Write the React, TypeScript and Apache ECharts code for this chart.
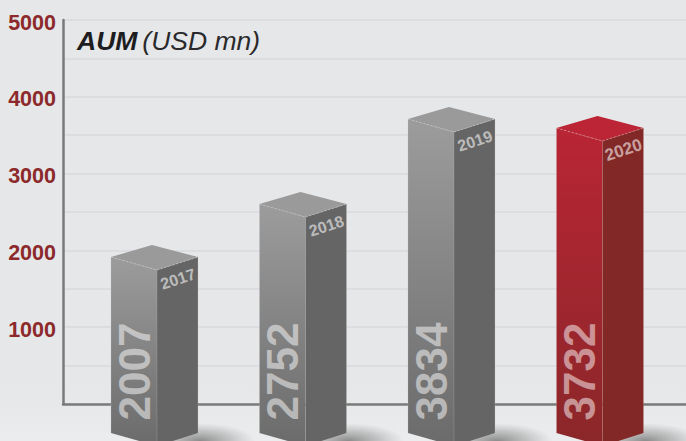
import React, { useEffect, useRef } from "react";
import * as echarts from "echarts";

const years = ["2017", "2018", "2019", "2020"];
const printedValues = ["2007", "2752", "3834", "3732"];
// Bar-top heights (the artwork's 3D bars do not sit exactly on the printed values)
const barHeights = [2070, 2760, 3867, 3750];
const yTicks = [0, 1000, 2000, 3000, 4000, 5000];

const FONT = '"Liberation Sans", Arial, sans-serif';

const grey = { top: "#9a9a9a", frontA: "#9c9c9c", frontB: "#6b6b6b", side: "#656565", edge: "#c4c4c4", label: "rgba(255,255,255,0.5)" };
const red = { top: "#bb2535", frontA: "#b92535", frontB: "#8a2729", side: "#822826", edge: "#d9a0a5", label: "rgba(255,255,255,0.5)" };

function renderItem(params: any, api: any) {
  const i = params.dataIndex;
  const c = i === 3 ? red : grey;
  const apex = api.coord([api.value(0), api.value(1)]);
  const base = api.coord([api.value(0), 0]);
  const cx = apex[0];
  const t = apex[1];
  const b = base[1];
  const L = cx - 41;
  const M = cx + 5;
  const R = cx + 46;
  const poly = (points: number[][], fill: any) => ({ type: "polygon", shape: { points }, style: { fill } });
  const line = (x1: number, y1: number, x2: number, y2: number, opacity: number, dash?: number[]) => ({
    type: "line",
    shape: { x1, y1, x2, y2 },
    style: { stroke: c.edge, lineWidth: 0.8, lineDash: dash, opacity },
  });
  return {
    type: "group",
    children: [
      {
        type: "ellipse",
        shape: { cx: R + 2, cy: b + 37, rx: 56, ry: 18 },
        style: {
          fill: new echarts.graphic.RadialGradient(0.5, 0.5, 0.5, [
            { offset: 0, color: "rgba(60,60,60,0.55)" },
            { offset: 0.55, color: "rgba(90,90,90,0.28)" },
            { offset: 1, color: "rgba(120,120,120,0)" },
          ]),
        },
      },
      poly([[L, t + 12], [M, t + 25], [M, b + 42], [L, b + 29]],
        new echarts.graphic.LinearGradient(0, 0, 0, 1, [
          { offset: 0, color: c.frontA },
          { offset: 1, color: c.frontB },
        ])),
      poly([[M, t + 25], [R, t + 12], [R, b + 29], [M, b + 42]], c.side),
      poly([[L, t + 12], [cx, t], [R, t + 12], [M, t + 25]], c.top),
      line(L, t + 12, M, t + 25, 0.8, [2, 2]),
      line(M, t + 25, R, t + 12, 0.8, [2, 2]),
      line(M, t + 25, M, b + 42, 0.3),
      line(L, t + 12, L, b + 29, 0.3),
      line(R, t + 12, R, b + 29, 0.3),
      {
        type: "text",
        x: L + 23.5,
        y: b + 16.5,
        rotation: Math.PI / 2,
        style: {
          text: printedValues[i],
          fill: c.label,
          font: `bold 44px ${FONT}`,
          align: "left",
          verticalAlign: "middle",
        },
      },
      {
        type: "text",
        x: cx + 26,
        y: t + 34,
        rotation: 0.32,
        style: {
          text: years[i],
          fill: "rgba(255,255,255,0.58)",
          font: `bold ${i === 3 ? 17 : 16}px ${FONT}`,
          align: "center",
          verticalAlign: "middle",
        },
      },
    ],
  };
}

export default function App() {
  const ref = useRef<HTMLDivElement>(null);
  useEffect(() => {
    const chart = echarts.init(ref.current!, null, { renderer: "svg" });
    chart.setOption({
      animation: false,
      backgroundColor: new echarts.graphic.LinearGradient(0, 0, 0, 1, [
        { offset: 0, color: "#e6e7e9" },
        { offset: 0.88, color: "#e6e7e9" },
        { offset: 1, color: "#ebeced" },
      ]),
      title: {
        left: 77,
        top: 27,
        padding: 0,
        text: "{b|AUM} {i|(USD mn)}",
        textStyle: {
          rich: {
            b: { fontFamily: FONT, fontSize: 26.5, fontWeight: "bold", fontStyle: "italic", color: "#1d1d1f" },
            i: { fontFamily: FONT, fontSize: 26.5, fontWeight: "normal", fontStyle: "italic", color: "#2a2a2c" },
          },
        },
      },
      grid: { left: 63, right: 0, top: 20, bottom: 37 },
      xAxis: {
        type: "value",
        min: -0.5993,
        max: 3.596,
        splitLine: { show: false },
        axisTick: { show: false },
        axisLabel: { show: false },
        axisLine: { show: true, onZero: false, lineStyle: { color: "#7a7a7a", width: 2.5 } },
      },
      yAxis: {
        type: "value",
        min: 0,
        max: 5000,
        interval: 500,
        axisTick: { show: false },
        axisLine: { show: true, onZero: false, lineStyle: { color: "#7a7a7a", width: 2.5 } },
        splitLine: { show: true, lineStyle: { color: "#dcdde0", width: 2 } },
        axisLabel: {
          margin: 7,
          verticalAlign: "top",
          lineHeight: 5,
          color: "#8c2a2b",
          fontFamily: FONT,
          fontWeight: "bold",
          fontSize: 21.5,
          formatter: (v: number) => (v !== 0 && yTicks.includes(v) ? String(v) : ""),
        },
      },
      series: [
        {
          type: "custom",
          clip: false,
          renderItem,
          data: barHeights.map((h, i) => [i, h]),
        },
      ],
    });
    return () => chart.dispose();
  }, []);
  return <div ref={ref} style={{ position: "absolute", left: 0, top: 0, width: 686, height: 441 }} />;
}
